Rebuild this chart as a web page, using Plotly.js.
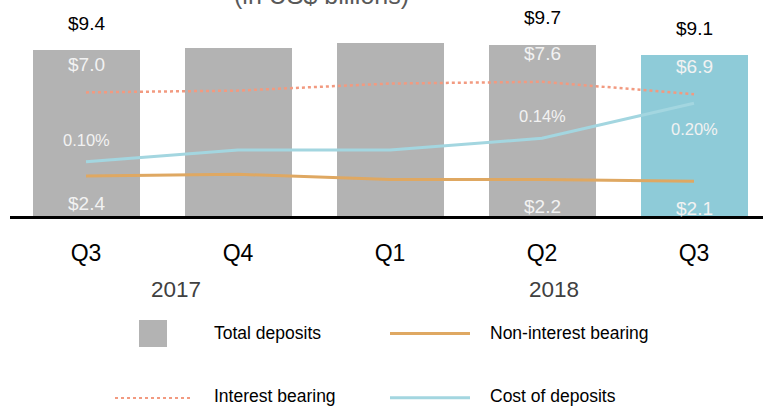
<!DOCTYPE html>
<html>
<head>
<meta charset="utf-8">
<script src="https://cdn.plot.ly/plotly-3.0.1.min.js"></script>
<style>
  html, body { margin: 0; padding: 0; background: #ffffff; }
  #chart { width: 763px; height: 406px; }
</style>
</head>
<body>
<div id="chart"></div>
<script>
// ---- data ----
const quarters = ['Q3', 'Q4', 'Q1', 'Q2', 'Q3'];
const years = ['2017', '2018'];
const totalDeposits = [9.4, 9.5, 9.8, 9.7, 9.1];
const interestBearing = [7.0, 7.1, 7.5, 7.6, 6.9];
const nonInterestBearing = [2.4, 2.5, 2.2, 2.2, 2.1];
const costOfDeposits = [0.10, 0.12, 0.12, 0.14, 0.20];
const totalLabels = ['$9.4', '', '', '$9.7', '$9.1'];
const interestLabels = ['$7.0', '', '', '$7.6', '$6.9'];
const nonInterestLabels = ['$2.4', '', '', '$2.2', '$2.1'];
const costLabels = ['0.10%', '', '', '0.14%', '0.20%'];
const seriesNames = ['Total deposits', 'Non-interest bearing', 'Interest bearing', 'Cost of deposits'];

// ---- styling ----
const FONT = '"Liberation Sans", Arial, sans-serif';
const GRAY = '#b3b3b3';
const TEAL = '#8ecbd8';
const ORANGE = '#dfa862';
const SALMON = '#f29a80';
const LIGHTBLUE = '#a3d6e0';
const W = 763, H = 406, ML = 10, MR = 0, MT = 0, MB = 190;
const PW = W - ML - MR, PH = H - MT - MB;
const px = v => (v - ML) / PW;          // pixel x -> paper
const py = v => (MT + PH - v) / PH;     // pixel y -> paper

const idx = quarters.map((_, i) => i);
const barColors = idx.map(i => i === quarters.length - 1 ? TEAL : GRAY);

const traces = [
  {
    type: 'bar', x: idx, y: totalDeposits, name: seriesNames[0],
    marker: { color: barColors, line: { width: 0 } },
    width: 0.704, hoverinfo: 'skip', showlegend: false
  },
  {
    type: 'scatter', mode: 'lines', x: idx, y: nonInterestBearing, yaxis: 'y3',
    name: seriesNames[1], line: { color: ORANGE, width: 3 }, hoverinfo: 'skip', showlegend: false
  },
  {
    type: 'scatter', mode: 'lines', x: idx, y: interestBearing, yaxis: 'y',
    name: seriesNames[2], line: { color: SALMON, width: 2.5, dash: 'dot' }, hoverinfo: 'skip', showlegend: false
  },
  {
    type: 'scatter', mode: 'lines', x: idx, y: costOfDeposits, yaxis: 'y2',
    name: seriesNames[3], line: { color: LIGHTBLUE, width: 3 }, hoverinfo: 'skip', showlegend: false
  }
];

const annotations = [];
idx.forEach(i => {
  if (totalLabels[i]) annotations.push({
    x: i, y: totalDeposits[i], xref: 'x', yref: 'y', text: totalLabels[i], showarrow: false,
    yshift: 27, font: { family: FONT, size: 19, color: '#000000' }
  });
  if (interestLabels[i]) annotations.push({
    x: i, y: interestBearing[i], xref: 'x', yref: 'y', text: interestLabels[i], showarrow: false,
    yshift: 28, font: { family: FONT, size: 19, color: '#f2f2f2' }
  });
  if (nonInterestLabels[i]) annotations.push({
    x: i, y: nonInterestBearing[i], xref: 'x', yref: 'y3', text: nonInterestLabels[i], showarrow: false,
    yshift: -27, font: { family: FONT, size: 19, color: '#f2f2f2' }
  });
  if (costLabels[i]) annotations.push({
    x: i, y: costOfDeposits[i], xref: 'x', yref: 'y2', text: costLabels[i], showarrow: false,
    yshift: i === quarters.length - 1 ? -26 : 22, font: { family: FONT, size: 16.5, color: '#f2f2f2' }
  });
});
// year labels
annotations.push({ x: 0.59, y: py(289), xref: 'x', yref: 'paper', text: years[0], showarrow: false,
  yanchor: 'middle', font: { family: FONT, size: 22.5, color: '#404040' } });
annotations.push({ x: 3.08, y: py(289), xref: 'x', yref: 'paper', text: years[1], showarrow: false,
  yanchor: 'middle', font: { family: FONT, size: 22.5, color: '#404040' } });
// cut-off title
annotations.push({ x: px(321), y: py(-5), xref: 'paper', yref: 'paper', text: '(in US$ billions)',
  showarrow: false, yanchor: 'middle', font: { family: FONT, size: 25, color: '#595959' } });
// legend texts
const legendText = [
  [seriesNames[0], 212, 333], [seriesNames[1], 488, 333],
  [seriesNames[2], 212, 396], [seriesNames[3], 488, 396]
];
legendText.forEach(([t, x, y]) => annotations.push({
  x: px(x), y: py(y), xref: 'paper', yref: 'paper', text: t, showarrow: false,
  xanchor: 'left', yanchor: 'middle', font: { family: FONT, size: 17.5, color: '#000000' }
}));

const shapes = [
  { type: 'rect', xref: 'paper', yref: 'paper', x0: px(139), x1: px(167), y0: py(347), y1: py(320),
    fillcolor: GRAY, line: { width: 0 } },
  { type: 'line', xref: 'paper', yref: 'paper', x0: px(390), x1: px(470), y0: py(333.5), y1: py(333.5),
    line: { color: ORANGE, width: 3 } },
  { type: 'line', xref: 'paper', yref: 'paper', x0: px(115), x1: px(190), y0: py(398), y1: py(398),
    line: { color: SALMON, width: 2, dash: 'dot' } },
  { type: 'line', xref: 'paper', yref: 'paper', x0: px(390), x1: px(470), y0: py(397.7), y1: py(397.7),
    line: { color: LIGHTBLUE, width: 3 } }
];

const pxPerUnit = 17.66;
const layout = {
  width: W, height: H,
  margin: { l: ML, r: MR, t: MT, b: MB, pad: 0 },
  paper_bgcolor: '#ffffff', plot_bgcolor: '#ffffff',
  showlegend: false,
  bargap: 0,
  xaxis: {
    range: [-0.5, -0.5 + PW / 152], tickmode: 'array', tickvals: idx, ticktext: quarters,
    showline: true, linecolor: '#000000', linewidth: 3, ticks: '', showgrid: false, zeroline: false,
    tickfont: { family: FONT, size: 23, color: '#000000' }, ticklabelstandoff: 14, fixedrange: true
  },
  yaxis: { range: [0, PH / pxPerUnit], visible: false, showgrid: false, zeroline: false, fixedrange: true },
  yaxis2: { overlaying: 'y', range: [(220.2 - PH) / 585, 220.2 / 585], visible: false, showgrid: false, zeroline: false },
  // non-interest axis: same scale as the bars, zero sits ~2.4px below the plot floor
  yaxis3: { overlaying: 'y', range: [2.4 / pxPerUnit, 2.4 / pxPerUnit + PH / pxPerUnit], visible: false, showgrid: false, zeroline: false },
  annotations: annotations,
  shapes: shapes
};

Plotly.newPlot('chart', traces, layout, { displayModeBar: false, staticPlot: true });
</script>
</body>
</html>
